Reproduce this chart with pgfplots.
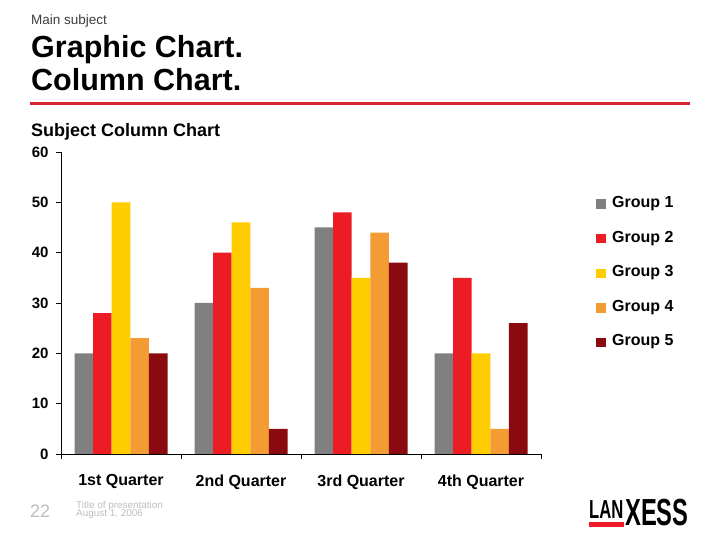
\documentclass[border=0pt]{standalone}
\usepackage{pgfplots}
\pgfplotsset{compat=1.18}
\usepackage{graphicx}
\usepackage{fontspec}
\setmainfont{Liberation Sans}

\definecolor{gone}{RGB}{128,128,128}
\definecolor{gtwo}{RGB}{237,28,36}
\definecolor{gthree}{RGB}{255,204,0}
\definecolor{gfour}{RGB}{243,156,52}
\definecolor{gfive}{RGB}{139,10,16}
\definecolor{rule}{RGB}{212,36,52}
\definecolor{subj}{RGB}{60,60,60}
\definecolor{foot}{RGB}{190,190,190}

\newcommand\fs[1]{\fontsize{#1bp}{#1bp}\selectfont}

% square legend marker, set a little low so it sits level with the text
\pgfplotsset{
  sq legend/.style={legend image code/.code={%
    \path[draw=none, fill=none] (0bp,-10bp) rectangle (10bp,10bp);
    \fill[##1] (0bp,-6.2bp) rectangle (10bp,3.3bp);}},
}

\begin{document}
\begin{tikzpicture}[x=1bp,y=1bp]
\useasboundingbox[fill=white] (0,0) rectangle (720,540);

% header
\node[anchor=base west, inner sep=0, text=subj, font=\fs{13.5}] at (31,515) {Main subject};
\node[anchor=base west, inner sep=0, font=\fs{30.5}\bfseries] at (31,482) {Graphic Chart.};
\node[anchor=base west, inner sep=0, font=\fs{30.5}\bfseries] at (31,449) {Column Chart.};
\fill[rule] (30,435) rectangle (690,438);
\node[anchor=base west, inner sep=0, font=\fs{18}\bfseries] at (31,403) {Subject Column Chart};

\begin{axis}[
    at={(61bp,86bp)}, anchor=south west,
    scale only axis, width=480bp, height=302bp,
    ybar=0pt, bar width=18.6bp,
    xmin=-0.5, xmax=3.5, ymin=0, ymax=60,
    axis x line*=bottom, axis y line*=left,
    axis line style={black, line width=0.8bp},
    xtick={0,1,2,3},
    xticklabels={1st Quarter, 2nd Quarter, 3rd Quarter, 4th Quarter},
    major x tick style={draw=none},
    minor xtick={-0.5,0.5,1.5,2.5,3.5},
    ytick={0,10,...,60},
    tick align=outside,
    major tick length=5bp, minor tick length=5bp,
    tick style={black, line width=0.8bp},
    /pgf/number format/assume math mode=true,
    xticklabel style={font=\fs{16}\bfseries, yshift=-12bp},
    yticklabel style={font=\fs{15}\bfseries, xshift=-4bp},
    legend style={at={(1.1146,0.8659)}, anchor=north west, draw=none, fill=none,
      inner sep=0pt, font=\fs{16}\bfseries, row sep=14.6bp, column sep=6bp,
      nodes={inner sep=0pt}, cells={anchor=west}},
  ]
  \addplot[fill=gone, draw=none, sq legend] coordinates {(0,20) (1,30) (2,45) (3,20)};
  \addplot[fill=gtwo, draw=none, sq legend] coordinates {(0,28) (1,40) (2,48) (3,35)};
  \addplot[fill=gthree, draw=none, sq legend] coordinates {(0,50) (1,46) (2,35) (3,20)};
  \addplot[fill=gfour, draw=none, sq legend] coordinates {(0,23) (1,33) (2,44) (3,5)};
  \addplot[fill=gfive, draw=none, sq legend] coordinates {(0,20) (1,5) (2,38) (3,26)};
  \legend{Group 1, Group 2, Group 3, Group 4, Group 5}
\end{axis}

% footer
\node[anchor=base west, inner sep=0, text=foot, font=\fs{18}] at (30,22) {22};
\node[anchor=base west, inner sep=0, text=foot, font=\fs{9.9}] at (76,31.7) {Title of presentation};
\node[anchor=base west, inner sep=0, text=foot, font=\fs{9.9}] at (76,23.3) {August 1, 2006};

% logo
\node[anchor=base west, inner sep=0, font=\fs{26}\bfseries] at (589,21) {\scalebox{0.64}[1]{LAN}};
\node[anchor=base west, inner sep=0, font=\fs{37.7}\bfseries] at (625,14) {\scalebox{0.63}[1]{XESS}};
\fill[gtwo] (589,13.3) rectangle (624,18.3);
\end{tikzpicture}
\end{document}
